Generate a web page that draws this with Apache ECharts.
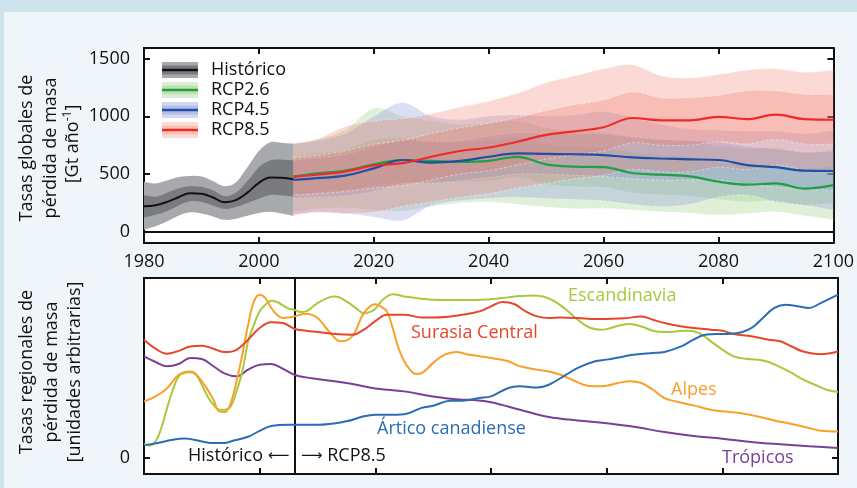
<!DOCTYPE html>
<html>
<head>
<meta charset="utf-8">
<script src="https://cdn.jsdelivr.net/npm/echarts@6/dist/echarts.min.js"></script>
<style>
html, body { margin: 0; padding: 0; background: #cfe3ec; }
#wrap { position: relative; width: 857px; height: 488px; background: #cfe3ec; }
#panel { position: absolute; left: 4px; top: 12px; right: 0; bottom: 0; background: #eff5f9; }
#main { position: absolute; left: 0; top: 0; width: 857px; height: 488px; }
</style>
</head>
<body>
<div id="wrap"><div id="panel"></div><div id="main"></div></div>
<script>
const FONT = "'Open Sans', 'DejaVu Sans', sans-serif";

// ---- global mass loss (Gt/yr) ----
const histYears = [1980, 1982, 1984, 1986, 1988, 1990, 1992, 1994, 1996, 1998, 2000, 2002, 2004, 2006];
const histMid     = [222, 232, 260, 300, 335, 330, 298, 258, 275, 340, 425, 470, 468, 455];
const histOuterHi = [435, 420, 445, 475, 485, 480, 440, 395, 430, 560, 700, 775, 770, 765];
const histInnerHi = [320, 305, 340, 375, 395, 390, 360, 310, 340, 440, 560, 620, 625, 620];
const histInnerLo = [125, 150, 180, 230, 265, 260, 230, 200, 215, 250, 290, 320, 315, 305];
const histOuterLo = [20, 50, 90, 140, 170, 160, 135, 105, 115, 140, 165, 175, 160, 140];

const rcpYears = [2006, 2010, 2015, 2020, 2025, 2030, 2035, 2040, 2045, 2050, 2055, 2060, 2065, 2070, 2075, 2080, 2085, 2090, 2095, 2100];

const rcp26Mid   = [478, 507, 530, 585, 622, 614, 605, 615, 650, 585, 565, 560, 510, 495, 480, 435, 410, 420, 375, 405];
const rcp26OutHi = [760, 800, 880, 1070, 1000, 960, 930, 940, 960, 900, 870, 860, 820, 800, 790, 740, 720, 730, 690, 710];
const rcp26InHi  = [640, 680, 710, 800, 810, 790, 780, 790, 820, 760, 740, 730, 690, 670, 650, 600, 580, 590, 550, 570];
const rcp26InLo  = [310, 340, 360, 400, 420, 430, 430, 440, 470, 410, 390, 385, 340, 320, 310, 280, 260, 270, 230, 250];
const rcp26OutLo = [170, 200, 210, 190, 180, 220, 250, 260, 240, 215, 200, 205, 190, 175, 165, 148, 160, 175, 140, 105];

const rcp45Mid   = [450, 465, 487, 550, 622, 600, 614, 650, 680, 675, 672, 665, 645, 635, 628, 622, 578, 560, 530, 528];
const rcp45OutHi = [760, 790, 850, 1000, 1120, 1000, 970, 1000, 1010, 1000, 1010, 1040, 990, 930, 890, 880, 870, 870, 850, 880];
const rcp45InHi  = [620, 640, 670, 740, 800, 780, 790, 830, 860, 850, 850, 850, 820, 800, 790, 780, 740, 720, 690, 700];
const rcp45InLo  = [290, 300, 310, 350, 420, 420, 440, 470, 500, 500, 490, 480, 460, 450, 450, 450, 410, 390, 370, 360];
const rcp45OutLo = [150, 170, 160, 130, 100, 230, 270, 290, 300, 290, 280, 270, 240, 220, 240, 300, 320, 260, 230, 190];

const rcp85Mid   = [478, 495, 522, 575, 595, 650, 700, 730, 780, 840, 870, 905, 985, 965, 965, 995, 975, 1015, 975, 970];
const rcp85OutHi = [770, 800, 910, 960, 980, 1020, 1080, 1130, 1200, 1290, 1350, 1410, 1445, 1350, 1330, 1360, 1400, 1410, 1380, 1400];
const rcp85InHi  = [640, 660, 700, 760, 790, 850, 900, 940, 990, 1050, 1100, 1140, 1210, 1160, 1160, 1180, 1220, 1220, 1190, 1190];
const rcp85InLo  = [320, 330, 350, 380, 400, 450, 500, 530, 580, 630, 670, 700, 770, 750, 750, 780, 760, 800, 760, 760];
const rcp85OutLo = [140, 170, 160, 170, 220, 260, 300, 330, 380, 420, 460, 490, 540, 520, 520, 560, 540, 580, 540, 540];

const topTicks = [0, 500, 1000, 1500];
const zeroLine = [[1980, 0], [2100, 0]];

// ---- regional mass loss (arbitrary units) ----
const escandinavia = [[1980, 7.5], [1981, 6.7], [1982, 8.9], [1983, 16.4], [1984, 27.6], [1985, 37.8], [1986, 45.2], [1987, 47.1], [1988, 47.5], [1989, 46.1], [1990, 40.5], [1991, 34], [1992, 29.4], [1993, 26.6], [1994, 26.6], [1995, 28.4], [1996, 36.8], [1997, 47.9], [1998, 64.7], [1999, 73.9], [2000, 81.4], [2001, 85.1], [2002, 87.3], [2003, 86.6], [2004, 84.8], [2005, 82.9], [2006, 82.3], [2007, 81], [2008, 81.4], [2010, 86], [2012, 89.2], [2013, 89.7], [2015, 87], [2017, 82.3], [2018, 80.3], [2019, 81], [2020, 82.9], [2021, 87], [2022, 89.7], [2023, 91], [2025, 89.7], [2028, 88.5], [2030, 87.9], [2035, 87.7], [2040, 88.2], [2043, 89.2], [2045, 89.9], [2047, 90.3], [2049, 89.7], [2051, 87], [2053, 82.3], [2055, 76.7], [2057, 72.4], [2059, 71.2], [2060, 71.5], [2062, 73.4], [2064, 74.3], [2066, 73], [2068, 70.6], [2070, 69.9], [2072, 70.2], [2074, 70.6], [2076, 69.3], [2078, 64.7], [2080, 60.1], [2082, 56.3], [2084, 55], [2086, 54.5], [2088, 53.2], [2090, 50.3], [2092, 47.1], [2094, 43.3], [2096, 40.5], [2098, 37.7], [2100, 36.4]];
const surasia = [[1980, 65.6], [1982, 60.6], [1984, 57.8], [1986, 59.4], [1988, 61.8], [1990, 62.2], [1992, 60.6], [1994, 58.7], [1996, 60], [1998, 65.6], [2000, 72.1], [2002, 75.3], [2004, 74.9], [2006, 71.7], [2008, 70.6], [2010, 69.9], [2013, 68.8], [2016, 68.4], [2018, 71.2], [2020, 76], [2022, 79.5], [2025, 79.5], [2028, 78], [2030, 78], [2033, 78.6], [2035, 79.5], [2038, 81.4], [2040, 84.2], [2042, 86.6], [2044, 85.5], [2046, 81.4], [2048, 78.6], [2050, 77.7], [2052, 78], [2055, 77.7], [2058, 77.1], [2060, 77.2], [2063, 77.5], [2066, 78.6], [2068, 76.7], [2070, 74.9], [2073, 73], [2075, 72.1], [2078, 71.2], [2080, 70.6], [2082, 68.8], [2085, 67.5], [2088, 65.6], [2090, 64.7], [2092, 61.8], [2094, 59], [2097, 57.5], [2100, 59]];
const alpes = [[1980, 31.2], [1982, 34], [1984, 38.6], [1986, 46.1], [1988, 47.9], [1990, 42.4], [1992, 32.2], [1993, 25.7], [1994, 25.3], [1995, 30.3], [1996, 42.4], [1997, 57.3], [1998, 73.9], [1999, 86.9], [2000, 90.7], [2001, 88.8], [2002, 83.3], [2003, 79.5], [2004, 77.7], [2005, 78], [2006, 78.6], [2008, 80.1], [2010, 77.7], [2012, 70.2], [2014, 64.7], [2016, 67.5], [2018, 80.3], [2020, 85.3], [2021, 84], [2022, 81.4], [2023, 72.1], [2024, 61], [2025, 53.6], [2026, 48.9], [2027, 46.5], [2028, 47], [2030, 52.7], [2032, 57.3], [2034, 58.8], [2036, 57.3], [2038, 56.4], [2040, 55.4], [2043, 53.6], [2045, 50.8], [2048, 48.9], [2050, 47.9], [2052, 46.1], [2054, 43.3], [2056, 40.5], [2058, 39.6], [2060, 40], [2062, 41.5], [2064, 42.4], [2066, 41.5], [2068, 37.7], [2070, 33.1], [2072, 31.2], [2075, 29], [2078, 26.6], [2080, 25.7], [2083, 24.7], [2086, 22.9], [2089, 20.6], [2092, 18.6], [2095, 16.4], [2097, 14.9], [2100, 14.5]];
const artico = [[1980, 6.7], [1983, 8.5], [1985, 9.9], [1987, 10.5], [1990, 8.9], [1992, 8], [1994, 8], [1995, 8.9], [1998, 11.5], [2000, 14.8], [2002, 17.5], [2005, 18.2], [2010, 18.2], [2015, 20.1], [2018, 22.9], [2020, 23.8], [2022, 23.8], [2025, 24.1], [2028, 27.6], [2030, 28.8], [2033, 31.6], [2035, 31.6], [2038, 33.1], [2040, 34], [2043, 38.7], [2045, 39.6], [2048, 39], [2050, 40.5], [2053, 46.1], [2055, 49.9], [2058, 53.6], [2060, 54.5], [2063, 56.3], [2065, 57.3], [2068, 58.2], [2070, 58.8], [2073, 62], [2075, 65.6], [2077, 68.4], [2080, 68.8], [2082, 69], [2085, 72.1], [2087, 77.7], [2089, 83.3], [2091, 85.1], [2093, 84.2], [2095, 83.3], [2097, 86], [2100, 90.7]];
const tropicos = [[1980, 56.3], [1982, 53.2], [1984, 50.8], [1986, 52.1], [1988, 55.4], [1990, 54.8], [1992, 50.8], [1994, 46.7], [1996, 45.2], [1998, 48.9], [2000, 51.7], [2002, 52.1], [2004, 49.4], [2006, 46.1], [2008, 44.6], [2010, 43.7], [2015, 41.5], [2020, 38.4], [2025, 36.8], [2030, 34], [2035, 32.2], [2037, 32], [2040, 30.8], [2045, 26.6], [2050, 22.5], [2055, 20.6], [2060, 19], [2065, 16.9], [2070, 14.1], [2075, 11.9], [2080, 10.4], [2085, 8.6], [2090, 7.3], [2095, 6.2], [2100, 5.3]];

const chart = echarts.init(document.getElementById('main'));

function pairs(xs, ys) { return xs.map((x, i) => [x, ys[i]]); }

// smooth path through pixel points (catmull-rom as cubic bezier)
function curvePath(pts, start) {
  let d = start + pts[0][0] + ',' + pts[0][1];
  for (let i = 0; i < pts.length - 1; i++) {
    const p0 = pts[i - 1] || pts[i], p1 = pts[i], p2 = pts[i + 1], p3 = pts[i + 2] || pts[i + 1];
    const k = 1 / 6;
    d += ' C' + (p1[0] + (p2[0] - p0[0]) * k) + ',' + (p1[1] + (p2[1] - p0[1]) * k) + ' ' +
      (p2[0] - (p3[0] - p1[0]) * k) + ',' + (p2[1] - (p3[1] - p1[1]) * k) + ' ' + p2[0] + ',' + p2[1];
  }
  return d;
}

// uncertainty band: filled area between lo and hi
function band(xs, lo, hi, fill, opacity, dashed) {
  return {
    type: 'custom', xAxisIndex: 0, yAxisIndex: 0, silent: true, z: 2,
    data: xs.map((x, i) => [x, lo[i], hi[i]]),
    encode: { x: 0, y: [1, 2] },
    renderItem: function (params, api) {
      if (params.dataIndex !== 0) return;
      const top = xs.map((x, i) => api.coord([x, hi[i]]));
      const bot = xs.map((x, i) => api.coord([x, lo[i]])).reverse();
      const children = [{
        type: 'path', shape: { pathData: curvePath(top, 'M') + ' ' + curvePath(bot, 'L') + ' Z' },
        style: { fill: fill, opacity: opacity }
      }];
      if (dashed) {
        [top, bot].forEach(p => children.push({
          type: 'path', shape: { pathData: curvePath(p, 'M') },
          style: { fill: null, stroke: 'rgba(255,255,255,0.6)', lineWidth: 0.7, lineDash: [3, 2] }
        }));
      }
      return { type: 'group', children: children };
    }
  };
}

function line(data, color, width, xi, yi) {
  return { type: 'line', data: data, xAxisIndex: xi, yAxisIndex: yi, symbol: 'none', smooth: 0.4,
    lineStyle: { color: color, width: width }, silent: true, z: 5 };
}

// zero reference line of the global panel
const zeroSeries = {
  type: 'custom', xAxisIndex: 0, yAxisIndex: 0, silent: true, z: 6,
  data: zeroLine, encode: { x: 0, y: 1 },
  renderItem: function (params, api) {
    if (params.dataIndex !== 0) return;
    const a = api.coord(zeroLine[0]), b = api.coord(zeroLine[1]);
    return { type: 'line', shape: { x1: a[0], y1: a[1], x2: b[0], y2: b[1] },
      style: { stroke: '#111', lineWidth: 2 } };
  }
};

const GREEN = 'rgb(140,200,115)', BLUE = 'rgb(130,140,215)', RED = 'rgb(240,120,100)';

const series = [
  band(histYears, histOuterLo, histOuterHi, '#a7a9ac', 1, false),
  band(histYears, histInnerLo, histInnerHi, '#797b7e', 1, false),
  band(rcpYears, rcp26OutLo, rcp26OutHi, GREEN, 0.28, true),
  band(rcpYears, rcp26InLo, rcp26InHi, GREEN, 0.28, true),
  band(rcpYears, rcp45OutLo, rcp45OutHi, BLUE, 0.28, true),
  band(rcpYears, rcp45InLo, rcp45InHi, BLUE, 0.28, true),
  band(rcpYears, rcp85OutLo, rcp85OutHi, RED, 0.28, true),
  band(rcpYears, rcp85InLo, rcp85InHi, RED, 0.28, true),
  zeroSeries,
  line(pairs(histYears, histMid), '#111', 2, 0, 0),
  line(pairs(rcpYears, rcp26Mid), '#1fa043', 2.2, 0, 0),
  line(pairs(rcpYears, rcp45Mid), '#1f4fa6', 2.2, 0, 0),
  line(pairs(rcpYears, rcp85Mid), '#ee2a2a', 2.2, 0, 0),
  line(tropicos, '#7a3f98', 2, 2, 2),
  line(escandinavia, '#a8c93c', 2, 2, 2),
  line(alpes, '#f9a02a', 2, 2, 2),
  line(surasia, '#e8452c', 2, 2, 2)
];
const artLine = line(artico, '#2a6db5', 2, 2, 2);
artLine.markLine = { silent: true, symbol: 'none', label: { show: false },
  lineStyle: { color: '#111', width: 2, type: 'solid' }, data: [{ xAxis: 2006 }] };
series.push(artLine);

const axisLine = { onZero: false, lineStyle: { color: '#111', width: 2 } };
const tick = { inside: true, length: 6, lineStyle: { color: '#111', width: 2 } };
const plainFmt = v => String(v);

function xAx(grid, pos, labels) {
  return { gridIndex: grid, type: 'value', min: 1980, max: 2100, interval: 20, position: pos,
    axisLine: axisLine, axisTick: tick, splitLine: { show: false },
    axisLabel: { show: labels, showMinLabel: true, showMaxLabel: true, margin: 10, formatter: plainFmt,
      fontSize: 18, color: '#111', fontFamily: FONT } };
}
function yAx(grid, pos, min, max, ticks, labels) {
  return { gridIndex: grid, type: 'value', min: min, max: max, position: pos,
    axisLine: axisLine, splitLine: { show: false },
    axisTick: Object.assign({ customValues: ticks }, tick),
    axisLabel: { show: labels, customValues: ticks, formatter: plainFmt, margin: 14, fontSize: 18, color: '#111', fontFamily: FONT } };
}

// legend drawn as graphics (layered band icons)
const legendRows = [
  { name: 'Histórico', light: '#a7a9ac', mid: '#797b7e', line: '#111', y: 70 },
  { name: 'RCP2.6', light: '#dcedd4', mid: '#c1e1b3', line: '#1fa043', y: 90 },
  { name: 'RCP4.5', light: '#d4d7f0', mid: '#b7bde4', line: '#1f4fa6', y: 110 },
  { name: 'RCP8.5', light: '#fcdcd6', mid: '#f8c2b9', line: '#ee2a2a', y: 130 }
];
const graphics = [];
legendRows.forEach(r => {
  graphics.push({ type: 'rect', shape: { x: 162, y: r.y - 8, width: 36, height: 16 }, style: { fill: r.light }, z: 100 });
  graphics.push({ type: 'rect', shape: { x: 162, y: r.y - 4.5, width: 36, height: 9 }, style: { fill: r.mid }, z: 100 });
  graphics.push({ type: 'line', shape: { x1: 162, y1: r.y, x2: 198, y2: r.y }, style: { stroke: r.line, lineWidth: 2.5 }, z: 100 });
  graphics.push({ type: 'text', x: 211, y: r.y, style: { text: r.name, fontSize: 18, fontFamily: FONT, fill: '#111',
    align: 'left', verticalAlign: 'middle' }, z: 100 });
});

function vtext(x, y, text, rich) {
  return { type: 'text', x: x, y: y, rotation: Math.PI / 2, z: 100,
    style: { text: text, fontSize: 18, fontFamily: FONT, fill: '#111', align: 'center', verticalAlign: 'middle',
      lineHeight: 22, rich: rich || {} } };
}
graphics.push(vtext(27, 148, 'Tasas globales de'));
graphics.push(vtext(51, 148, 'pérdida de masa'));
graphics.push(vtext(73, 144, '[Gt año{sup|-1}]', { sup: { fontSize: 12, fontFamily: FONT, fill: '#111', verticalAlign: 'top', lineHeight: 12 } }));
graphics.push(vtext(27, 372, 'Tasas regionales de'));
graphics.push(vtext(52, 372, 'pérdida de masa'));
graphics.push(vtext(75, 372, '[unidades arbitrarias]'));

const arrowRich = { a: { fontSize: 15, fontFamily: FONT, fill: '#111' } };
const annotations = [
  { text: 'Escandinavia', color: '#a8c93c', x: 568, y: 296 },
  { text: 'Surasia Central', color: '#e8452c', x: 411, y: 333 },
  { text: 'Alpes', color: '#f9a02a', x: 671, y: 390 },
  { text: 'Ártico canadiense', color: '#2a6db5', x: 377, y: 429 },
  { text: 'Trópicos', color: '#7a3f98', x: 722, y: 458 },
  { text: 'Histórico {a|⟵}', color: '#111', x: 188, y: 456 },
  { text: '{a|⟶} RCP8.5', color: '#111', x: 301, y: 456 }
];
annotations.forEach(a => {
  graphics.push({ type: 'text', x: a.x, y: a.y, z: 100,
    style: { text: a.text, fontSize: 18, fontFamily: FONT, fill: a.color, align: 'left', verticalAlign: 'middle', rich: arrowRich } });
});

chart.setOption({
  animation: false,
  backgroundColor: 'transparent',
  grid: [
    { left: 144, top: 48, width: 694, height: 195, show: true, backgroundColor: '#fff', borderWidth: 0 },
    { left: 144, top: 278, width: 694, height: 196, show: true, backgroundColor: '#fff', borderWidth: 0 }
  ],
  xAxis: [xAx(0, 'bottom', true), xAx(0, 'top', false), xAx(1, 'bottom', false), xAx(1, 'top', false)],
  yAxis: [
    yAx(0, 'left', -95, 1590, topTicks, true),
    yAx(0, 'right', -95, 1590, topTicks, false),
    yAx(1, 'left', -9.25, 100, [0], true),
    yAx(1, 'right', -9.25, 100, [0], false)
  ],
  series: series,
  graphic: graphics
});
</script>
</body>
</html>
